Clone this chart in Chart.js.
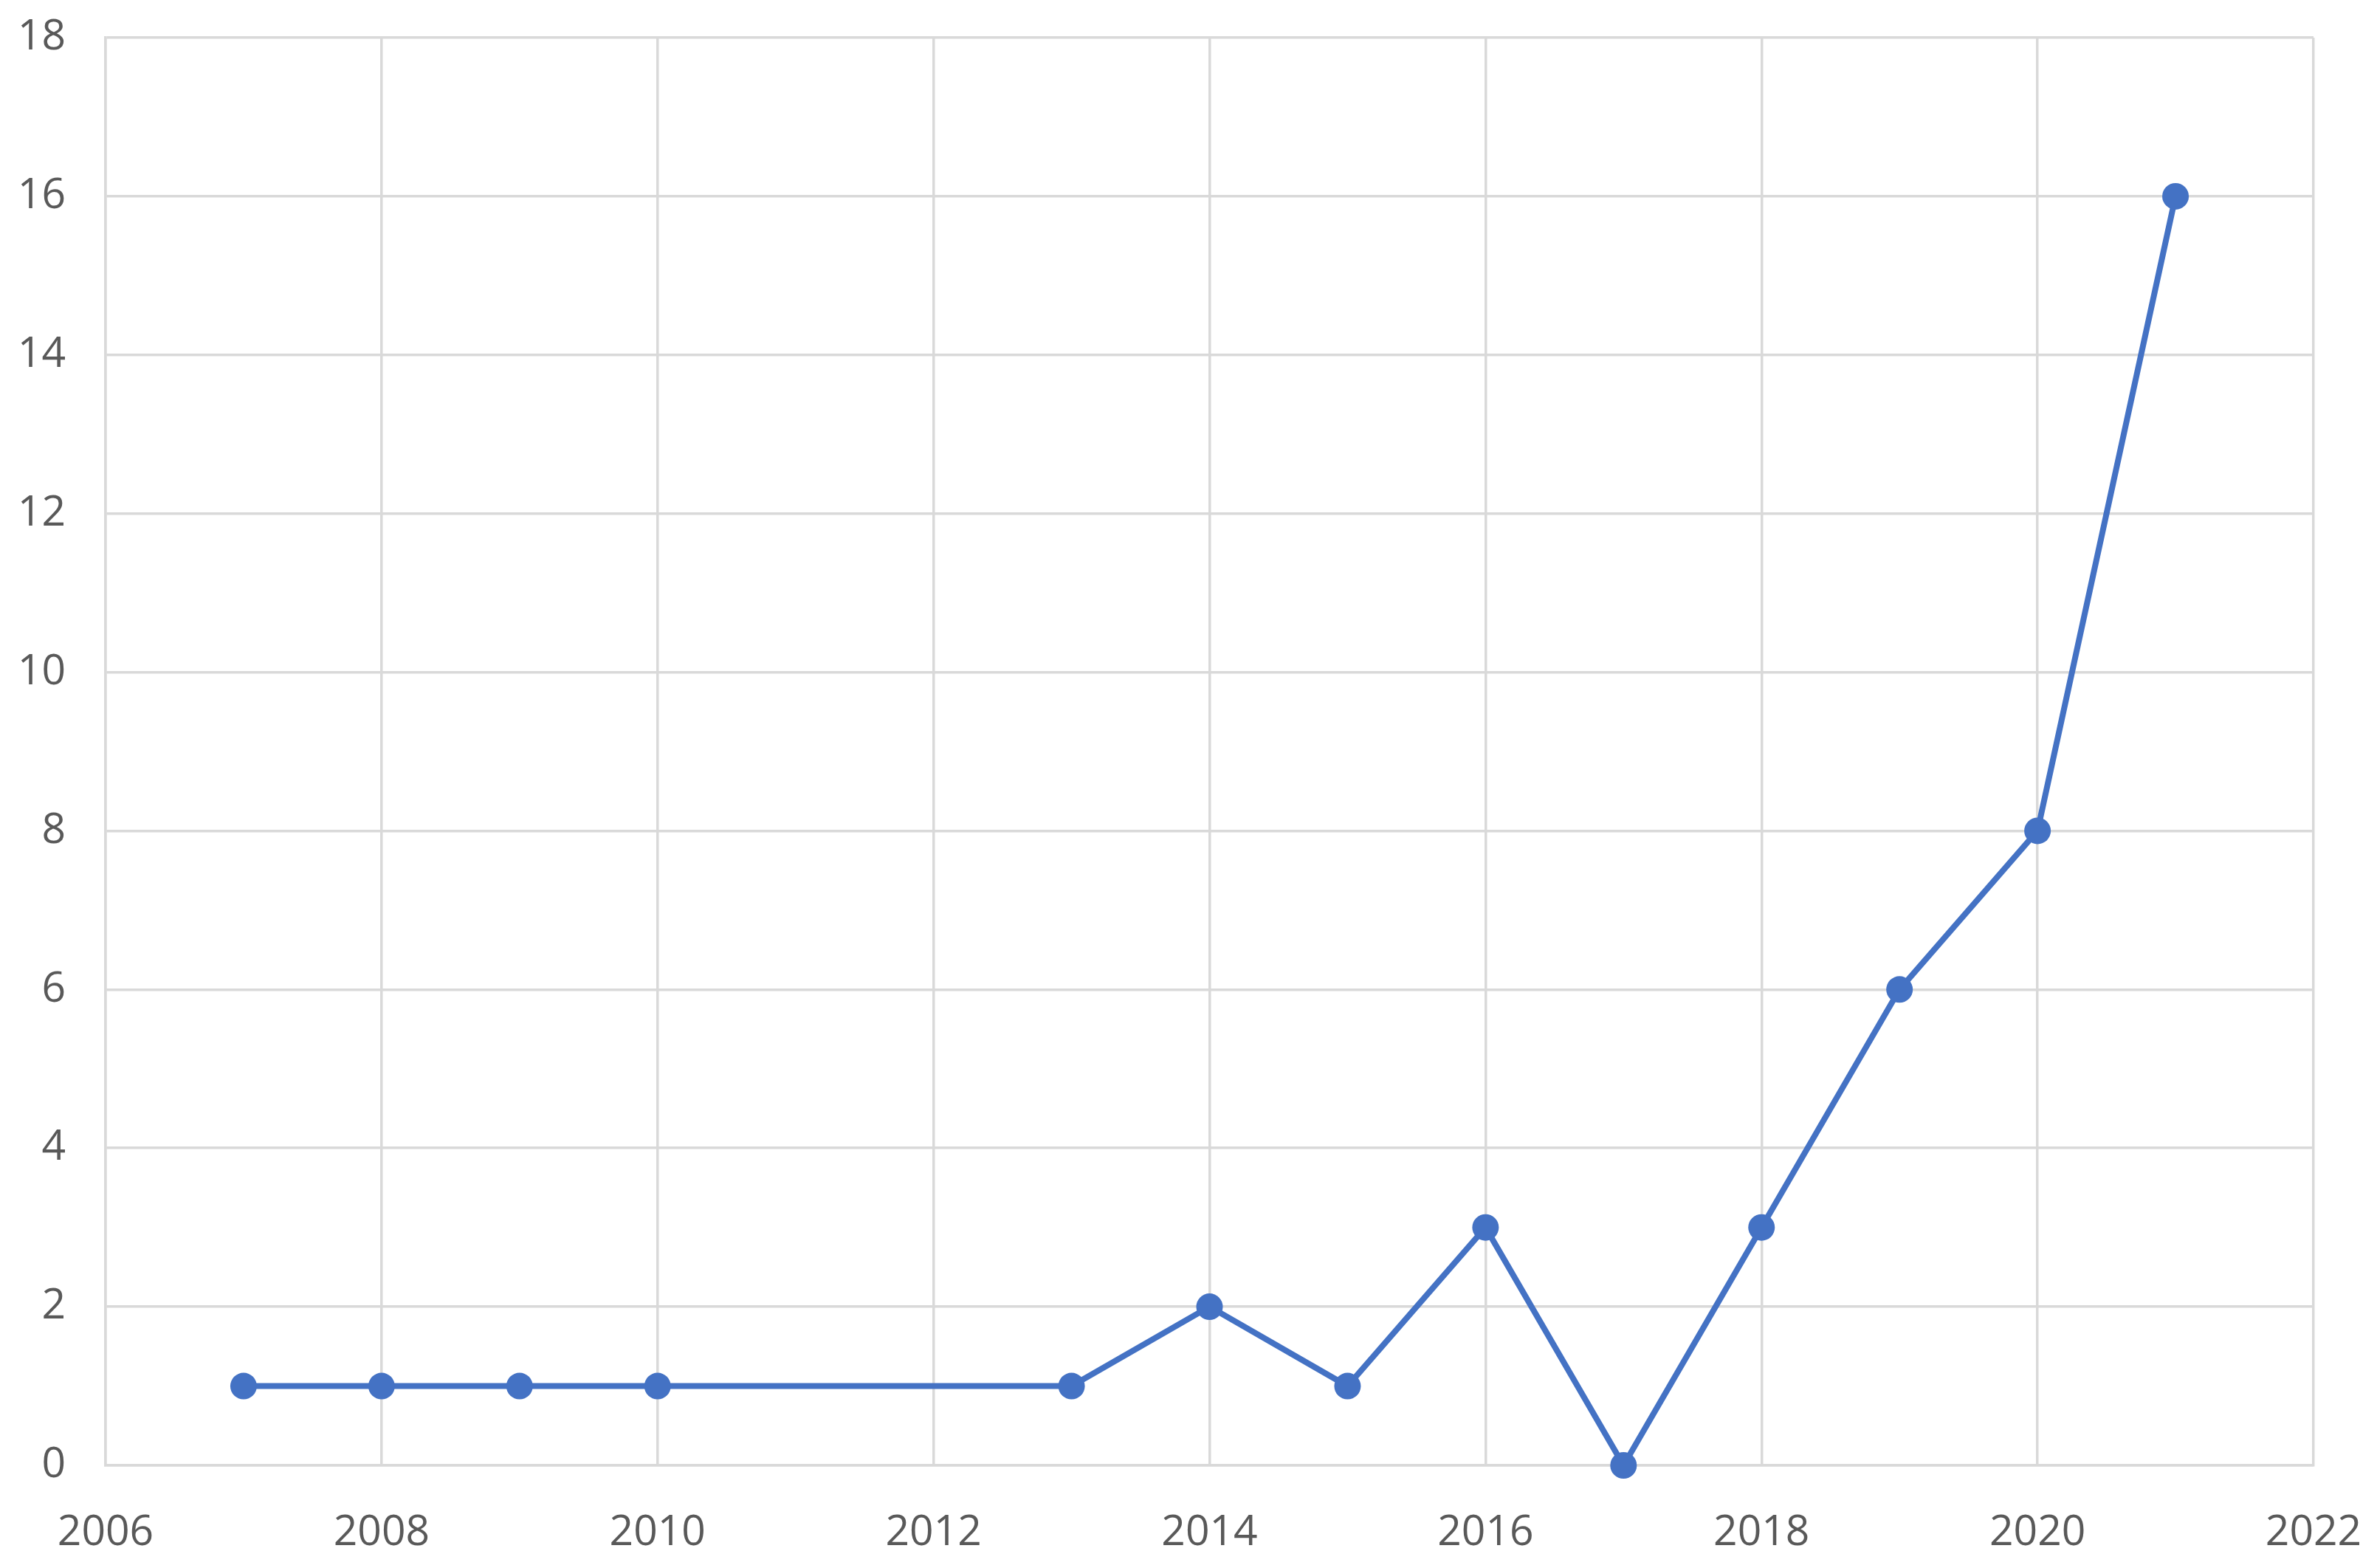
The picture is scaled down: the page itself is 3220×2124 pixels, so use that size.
<!DOCTYPE html>
<html>
<head>
<meta charset="utf-8">
<script src="https://cdn.jsdelivr.net/npm/chart.js@4/dist/chart.umd.min.js"></script>
<style>
  html, body { margin: 0; padding: 0; background: #fff; }
  #wrap { width: 3220px; height: 2124px; }
</style>
</head>
<body>
<div id="wrap"><canvas id="grafico" width="3220" height="2124"></canvas></div>
<script>
let years = [2007, 2008, 2009, 2010, 2013, 2014, 2015, 2016, 2017, 2018, 2019, 2020, 2021];
let counts = [1, 1, 1, 1, 1, 2, 1, 3, 0, 3, 6, 8, 16];

let xMin = 2006, xMax = 2022, xStep = 2;
let yMin = 0, yMax = 18, yStep = 2;

let points = years.map((year, i) => ({ x: year, y: counts[i] }));

let tickFont = { family: "'Open Sans', 'Noto Sans', sans-serif", size: 57 };
let gridColor = "#d9d9d9";

function noOverflow(scale) {
  scale.paddingTop = 0;
  scale.paddingBottom = 0;
  scale.paddingLeft = 0;
  scale.paddingRight = 0;
}

new Chart(document.getElementById("grafico"), {
  type: "line",
  data: {
    datasets: [
      {
        data: points,
        borderColor: "#4472c4",
        backgroundColor: "#4472c4",
        borderWidth: 8,
        pointRadius: 18,
        pointHoverRadius: 18,
        pointBorderWidth: 0,
        tension: 0,
        clip: false,
      },
    ],
  },
  options: {
    responsive: false,
    animation: false,
    layout: { padding: { top: 51, right: 86, left: 0, bottom: 0 } },
    plugins: {
      legend: { display: false },
      tooltip: { enabled: false },
    },
    scales: {
      x: {
        type: "linear",
        min: xMin,
        max: xMax,
        ticks: { stepSize: xStep, color: "#595959", font: tickFont, padding: 58, maxRotation: 0, callback: (v) => String(v) },
        grid: { color: gridColor, lineWidth: 3.5, drawTicks: false },
        border: { color: gridColor, width: 3.5 },
        afterFit: (scale) => { scale.height = 139; noOverflow(scale); },
      },
      y: {
        min: yMin,
        max: yMax,
        ticks: { stepSize: yStep, color: "#595959", font: tickFont, padding: 54 },
        grid: { color: gridColor, lineWidth: 3.5, drawTicks: false },
        border: { color: gridColor, width: 3.5 },
        afterFit: (scale) => { scale.width = 143; noOverflow(scale); },
      },
    },
  },
});
</script>
</body>
</html>
